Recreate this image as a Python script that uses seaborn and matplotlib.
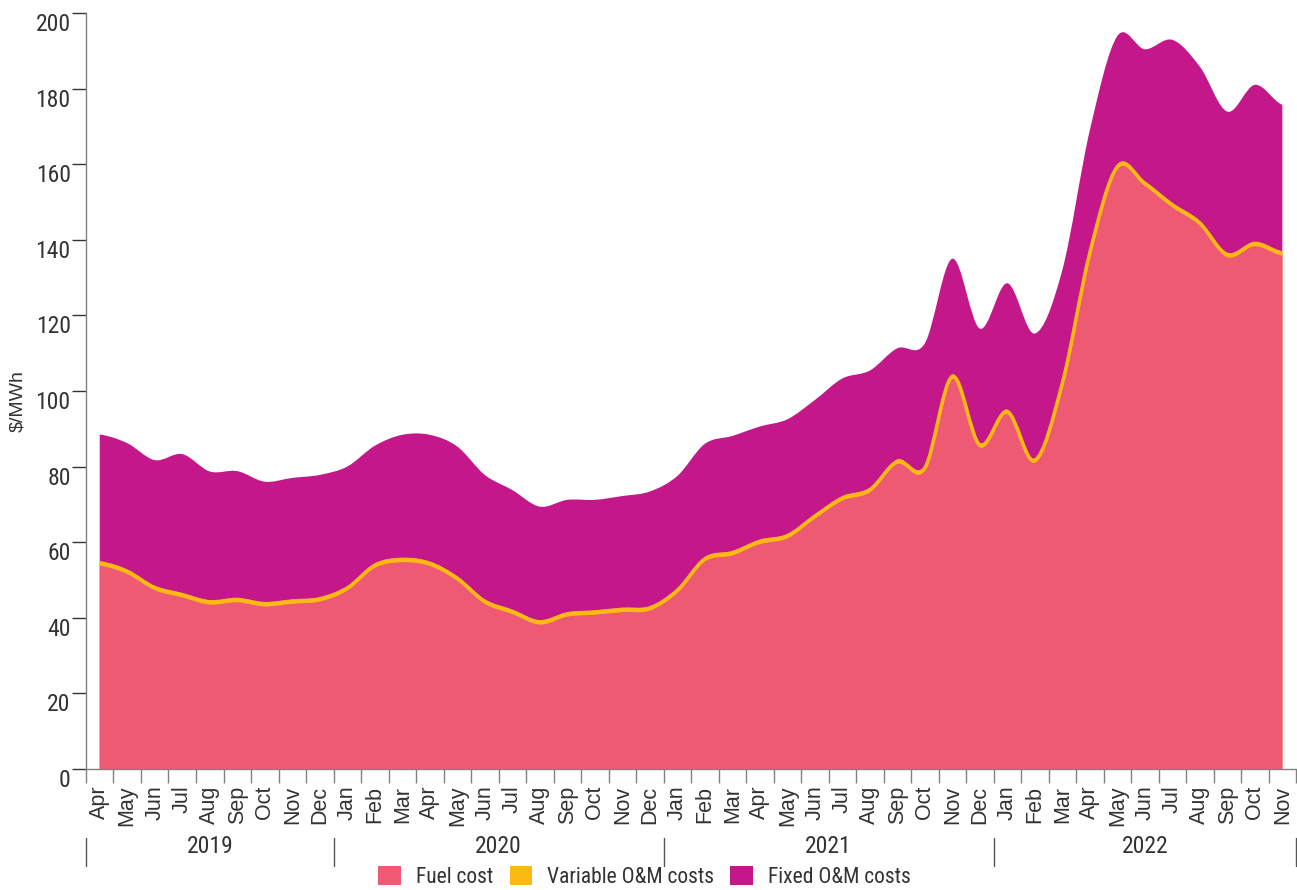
import matplotlib
matplotlib.use("Agg")
import matplotlib.pyplot as plt
from matplotlib import font_manager
from matplotlib.path import Path
from matplotlib.patches import PathPatch, Patch
from matplotlib.transforms import blended_transform_factory
import numpy as np
import seaborn as sns

# monthly generation cost, Apr 2019 - Nov 2022 ($/MWh)
months = ["Apr", "May", "Jun", "Jul", "Aug", "Sep", "Oct", "Nov", "Dec",
          "Jan", "Feb", "Mar", "Apr", "May", "Jun", "Jul", "Aug", "Sep", "Oct", "Nov", "Dec",
          "Jan", "Feb", "Mar", "Apr", "May", "Jun", "Jul", "Aug", "Sep", "Oct", "Nov", "Dec",
          "Jan", "Feb", "Mar", "Apr", "May", "Jun", "Jul", "Aug", "Sep", "Oct", "Nov"]
years = ["2019"] * 9 + ["2020"] * 12 + ["2021"] * 12 + ["2022"] * 11

fuel_cost = [53.8, 51.6, 47.3, 45.4, 43.5, 44.1, 43.0, 43.7, 44.3,
             47.2, 53.2, 54.7, 53.7, 49.8, 43.7, 41.0, 38.2, 40.3, 40.8, 41.5, 41.9,
             46.6, 54.9, 56.5, 59.5, 61.0, 66.2, 71.0, 73.2, 80.7, 79.0, 103.2, 85.1,
             93.9, 81.0, 101.4, 135.9, 158.7, 154.3, 148.6, 143.8, 135.4, 138.3, 135.8]
variable_om = [1.2, 1.2, 1.2, 1.2, 1.2, 1.2, 1.2, 1.2, 1.2,
               1.2, 1.2, 1.2, 1.2, 1.2, 1.2, 1.2, 1.2, 1.2, 1.2, 1.2, 1.2,
               1.2, 1.2, 1.2, 1.2, 1.2, 1.2, 1.2, 1.2, 1.2, 1.2, 1.2, 1.2,
               1.2, 1.2, 1.2, 1.2, 1.2, 1.2, 1.2, 1.2, 1.2, 1.2, 1.2]
fixed_om = [33.5, 33.4, 33.2, 36.7, 34.0, 33.5, 31.8, 32.1, 32.3,
            31.6, 31.1, 32.5, 33.5, 34.3, 32.9, 31.6, 30.0, 29.7, 29.2, 29.5, 30.3,
            29.7, 29.9, 30.4, 29.9, 30.3, 30.2, 31.1, 31.0, 29.4, 32.4, 30.6, 30.2,
            33.4, 33.0, 29.4, 31.9, 34.0, 34.9, 43.1, 40.8, 37.3, 41.5, 38.7]

series_names = ["Fuel cost", "Variable O&M costs", "Fixed O&M costs"]
colors = ["#EE5A73", "#FDB913", "#C4178A"]

sns.set_style("ticks")
available = {f.name for f in font_manager.fontManager.ttflist}
narrow = next((f for f in ["Roboto Condensed", "Liberation Sans Narrow"] if f in available), "Roboto")
plt.rcParams["font.family"] = ["Liberation Sans", "DejaVu Sans"]
text_color = "#333333"


def smooth_path(x, y):
    # catmull-rom curve through the points, written as cubic bezier segments
    n = len(x)
    verts = [(x[0], y[0])]
    for i in range(n - 1):
        y0 = y[i - 1] if i > 0 else y[i]
        y3 = y[i + 2] if i + 2 < n else y[i + 1]
        dx = (x[i + 1] - x[i]) / 3
        verts.append((x[i] + dx, y[i] + (y[i + 1] - y0) / 6))
        verts.append((x[i + 1] - dx, y[i + 1] - (y3 - y[i]) / 6))
        verts.append((x[i + 1], y[i + 1]))
    return verts


fig = plt.figure(figsize=(12.97, 8.9), dpi=100)
ax = fig.add_axes([0.0663, 0.136, 0.933, 0.8494])

x = np.arange(len(months))
stack = np.cumsum(np.vstack([fuel_cost, variable_om, fixed_om]), axis=0)

# draw from the tallest layer down so the areas never leave seams
for layer in [2, 1, 0]:
    upper = smooth_path(x, stack[layer])
    verts = upper + [(x[-1], 0), (x[0], 0), (x[0], 0)]
    codes = [Path.MOVETO] + [Path.CURVE4] * (len(upper) - 1) + [Path.LINETO, Path.LINETO, Path.CLOSEPOLY]
    ax.add_patch(PathPatch(Path(verts, codes), facecolor=colors[layer], edgecolor="none"))

# the thin variable O&M band reads as a line of even width, also on steep parts
mid = stack[0] + np.array(variable_om) / 2
line = smooth_path(x, mid)
ax.add_patch(PathPatch(Path(line, [Path.MOVETO] + [Path.CURVE4] * (len(line) - 1)),
                       fill=False, edgecolor=colors[1], lw=2.6, capstyle="butt"))

ax.set_xlim(-0.5, len(months) - 0.5)
ax.set_ylim(0, 200)
sns.despine(ax=ax)
for side in ["left", "bottom"]:
    ax.spines[side].set_color("#808080")
    ax.spines[side].set_linewidth(1)

ax.set_yticks(np.arange(0, 201, 20))
ax.tick_params(axis="y", length=10, width=1, color="#333333", pad=1, labelsize=17,
               labelcolor=text_color)
for lab in ax.get_yticklabels():
    lab.set_fontfamily(narrow)
    lab.set_va("top")

ax.set_xticks(np.arange(-0.5, len(months)), labels=[""] * (len(months) + 1))
ax.set_xticks(x, labels=months, minor=True)
ax.tick_params(axis="x", which="major", length=10, width=1, color="#808080")
ax.tick_params(axis="x", which="minor", length=0, pad=12, labelsize=15.5,
               labelrotation=90, labelcolor=text_color)
for lab in ax.get_xticklabels(minor=True):
    lab.set_va("top")

ax.set_ylabel("$/MWh", fontsize=14, color=text_color)
ax.yaxis.set_label_coords(-0.0496, 0.487)

# year groups under the month labels
trans = blended_transform_factory(ax.transData, ax.transAxes)
bounds = [-0.5] + [i - 0.5 for i in range(1, len(years)) if years[i] != years[i - 1]] + [len(years) - 0.5]
for b in bounds:
    ax.plot([b, b], [-0.0913, -0.128], color="#555555", lw=1, transform=trans, clip_on=False)
for left, right in zip(bounds[:-1], bounds[1:]):
    ax.text((left + right) / 2, -0.103, years[int(left + 0.5)], transform=trans, ha="center",
            va="center", fontsize=17, family=narrow, color=text_color)

handles = [Patch(facecolor=c, edgecolor="none") for c in colors]
fig.legend(handles, series_names, loc="upper center", bbox_to_anchor=(0.497, 0.0275), ncol=3,
           frameon=False, prop={"family": narrow, "size": 15.5}, labelcolor=text_color,
           handlelength=1.05, handleheight=1.05, handletextpad=0.7, columnspacing=0.75,
           borderpad=0, borderaxespad=0)

fig.savefig("out.png", dpi=100)
